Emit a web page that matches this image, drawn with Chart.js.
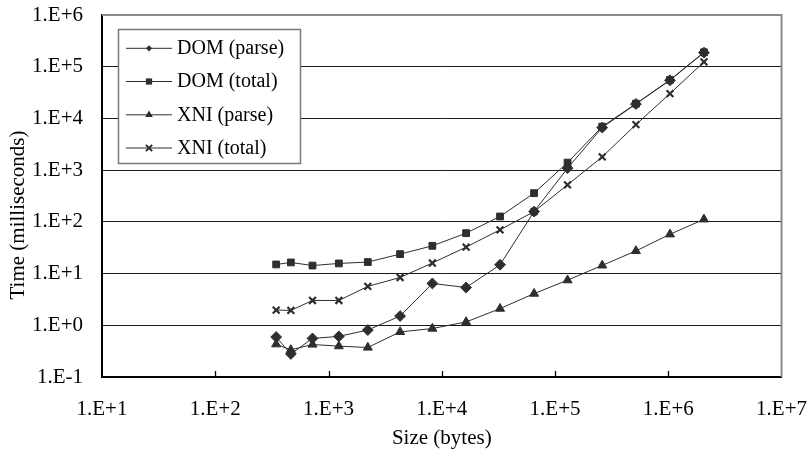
<!DOCTYPE html>
<html>
<head>
<meta charset="utf-8">
<script src="https://cdn.jsdelivr.net/npm/chart.js@4/dist/chart.umd.min.js"></script>
<style>
  html, body { margin: 0; padding: 0; background: #ffffff; }
  #wrap { width: 807px; height: 452px; }
</style>
</head>
<body>
<div id="wrap"><canvas id="c" width="807" height="452"></canvas></div>
<script>
// ---- data ----
const sizes = [345, 465, 722, 1234, 2223, 4287, 8260, 16400, 32700, 65300, 129000, 261000, 518000, 1035000, 2065000];
const domParse = [0.593, 0.279, 0.557, 0.610, 0.809, 1.51, 6.44, 5.38, 14.8, 158, 1091, 6650, 19000, 54700, 187000];
const domTotal = [15.0, 16.4, 14.3, 15.7, 16.7, 23.8, 34.4, 60.5, 127, 359, 1400, 6950, 19300, 55500, 190000];
const xniParse = [0.43, 0.335, 0.425, 0.395, 0.372, 0.745, 0.865, 1.16, 2.1, 4.1, 7.45, 14.4, 27.4, 57.5, 112];
const xniTotal = [1.97, 1.94, 3.02, 3.02, 5.64, 8.41, 16.0, 32.5, 70.2, 158, 520, 1806, 7600, 30200, 124000];
const seriesNames = ['DOM (parse)', 'DOM (total)', 'XNI (parse)', 'XNI (total)'];

const xTicks = [1e1, 1e2, 1e3, 1e4, 1e5, 1e6, 1e7];
const xTickLabels = ['1.E+1', '1.E+2', '1.E+3', '1.E+4', '1.E+5', '1.E+6', '1.E+7'];
const yTicks = [1e-1, 1e0, 1e1, 1e2, 1e3, 1e4, 1e5, 1e6];
const yTickLabels = ['1.E-1', '1.E+0', '1.E+1', '1.E+2', '1.E+3', '1.E+4', '1.E+5', '1.E+6'];

const xTitle = 'Size (bytes)';
const yTitle = 'Time (milliseconds)';

// ---- styling ----
const FONT = "'Liberation Serif', 'Times New Roman', serif";
const INK = '#2e2e2e';
const pointStyles = ['rectRot', 'rect', 'triangle', 'crossRot'];
const pointRadii = [5.4, 4.8, 5.2, 4.8];

function pts(vals) { return sizes.map((s, i) => ({ x: s, y: vals[i] })); }
const seriesValues = [domParse, domTotal, xniParse, xniTotal];

const datasets = seriesValues.map((vals, i) => ({
  label: seriesNames[i],
  data: pts(vals),
  showLine: true,
  borderColor: INK,
  backgroundColor: INK,
  borderWidth: 1,
  pointStyle: pointStyles[i],
  pointRadius: pointRadii[i],
  pointBorderWidth: pointStyles[i] === 'crossRot' ? 2.2 : 1,
  pointBorderColor: INK,
  pointBackgroundColor: INK,
  fill: false,
  tension: 0
}));

// small shape drawer for the legend
function drawMarker(ctx, style, x, y, r) {
  ctx.beginPath();
  if (style === 'rectRot') {
    const s = r * Math.SQRT1_2 * 1.0;
    ctx.moveTo(x, y - s); ctx.lineTo(x + s, y); ctx.lineTo(x, y + s); ctx.lineTo(x - s, y); ctx.closePath();
    ctx.fill();
  } else if (style === 'rect') {
    const s = r * Math.SQRT1_2;
    ctx.rect(x - s, y - s, 2 * s, 2 * s); ctx.fill();
  } else if (style === 'triangle') {
    ctx.moveTo(x, y - r); ctx.lineTo(x + r * 0.866, y + r * 0.5); ctx.lineTo(x - r * 0.866, y + r * 0.5); ctx.closePath();
    ctx.fill();
  } else if (style === 'crossRot') {
    const s = r * Math.SQRT1_2;
    ctx.lineWidth = 2;
    ctx.moveTo(x - s, y - s); ctx.lineTo(x + s, y + s);
    ctx.moveTo(x + s, y - s); ctx.lineTo(x - s, y + s);
    ctx.stroke();
  }
}

const framePlugin = {
  id: 'frame',
  beforeDatasetsDraw(chart) {
    const { ctx, chartArea: a, scales } = chart;
    ctx.save();
    // grey top / right frame
    ctx.strokeStyle = '#8a8a8a';
    ctx.lineWidth = 2;
    ctx.beginPath();
    ctx.moveTo(a.left, a.top); ctx.lineTo(a.right, a.top); ctx.lineTo(a.right, a.bottom);
    ctx.stroke();
    // inward tick marks on x axis
    ctx.strokeStyle = '#000';
    ctx.lineWidth = 1.3;
    ctx.beginPath();
    xTicks.forEach(v => {
      const px = Math.round(scales.x.getPixelForValue(v)) + 0.5;
      if (px > a.left + 2 && px < a.right - 2) {
        ctx.moveTo(px, a.bottom); ctx.lineTo(px, a.bottom - 6);
      }
    });
    ctx.stroke();
    ctx.restore();
  },
  afterDatasetsDraw(chart) {
    const { ctx } = chart;
    ctx.save();
    // legend box
    const bx = 118.5, by = 29.5, bw = 182, bh = 134;
    ctx.fillStyle = '#ffffff';
    ctx.fillRect(bx, by, bw, bh);
    ctx.strokeStyle = '#7a7a7a';
    ctx.lineWidth = 1.5;
    ctx.strokeRect(bx, by, bw, bh);
    const rows = [48.3, 81.5, 114.8, 148];
    chart.data.datasets.forEach((ds, i) => {
      const y = rows[i];
      ctx.strokeStyle = INK; ctx.fillStyle = INK; ctx.lineWidth = 1;
      ctx.beginPath(); ctx.moveTo(126, y); ctx.lineTo(172, y); ctx.stroke();
      drawMarker(ctx, ds.pointStyle, 149, y, 4.4);
      ctx.fillStyle = '#000';
      ctx.font = '20px ' + FONT;
      ctx.textAlign = 'left';
      ctx.textBaseline = 'middle';
      ctx.fillText(ds.label, 177, y + 0.5);
    });
    ctx.restore();
  },
  afterDraw(chart) {
    const { ctx } = chart;
    ctx.save();
    ctx.translate(18, 215);
    ctx.rotate(-Math.PI / 2);
    ctx.fillStyle = '#000';
    ctx.font = '21px ' + FONT;
    ctx.textAlign = 'center';
    ctx.textBaseline = 'middle';
    ctx.fillText(yTitle, 0, 0);
    ctx.restore();
  }
};

new Chart(document.getElementById('c'), {
  type: 'scatter',
  data: { datasets },
  plugins: [framePlugin],
  options: {
    responsive: false,
    animation: false,
    devicePixelRatio: 1,
    layout: { padding: { top: 15, right: 25, left: 0, bottom: 0 } },
    plugins: { legend: { display: false }, tooltip: { enabled: false } },
    scales: {
      x: {
        type: 'logarithmic',
        position: 'bottom',
        min: 10, max: 1e7,
        afterBuildTicks: s => { s.ticks = xTicks.map(v => ({ value: v })); },
        afterFit: s => { s.height = 75; },
        grid: { display: true, drawOnChartArea: false, drawTicks: true, tickLength: 20, tickColor: 'rgba(0,0,0,0)' },
        border: { display: true, color: '#000', width: 2 },
        ticks: {
          autoSkip: false, maxRotation: 0, minRotation: 0,
          padding: 0,
          color: '#000',
          font: { family: FONT, size: 21 },
          callback: (v, i) => xTickLabels[i]
        },
        title: {
          display: true, text: xTitle, color: '#000',
          font: { family: FONT, size: 21 },
          padding: { top: 0, bottom: 1 }
        }
      },
      y: {
        type: 'logarithmic',
        position: 'left',
        min: 0.1, max: 1e6,
        afterBuildTicks: s => { s.ticks = yTicks.map(v => ({ value: v })); },
        afterFit: s => { s.width = 102; },
        grid: { display: true, color: '#1a1a1a', lineWidth: 1, drawTicks: true, tickLength: 19, tickColor: 'rgba(0,0,0,0)' },
        border: { display: true, color: '#000', width: 2 },
        ticks: {
          autoSkip: false,
          padding: 0,
          color: '#000',
          font: { family: FONT, size: 21 },
          callback: (v, i) => yTickLabels[i]
        },
        title: { display: false }
      }
    }
  }
});
</script>
</body>
</html>
